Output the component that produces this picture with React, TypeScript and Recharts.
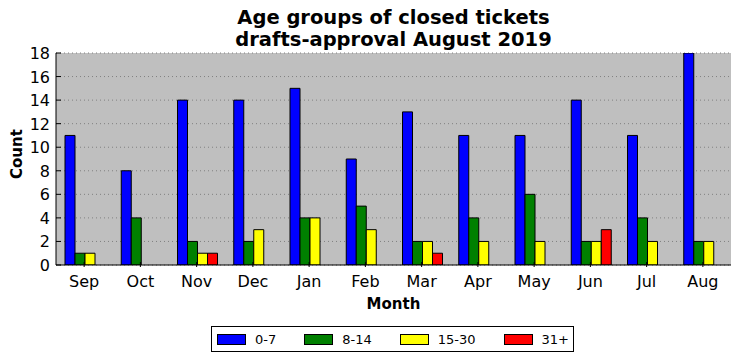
import React from 'react'
import {
  BarChart,
  Bar,
  XAxis,
  YAxis,
  CartesianGrid,
  Legend,
} from 'recharts'

const months = ['Sep', 'Oct', 'Nov', 'Dec', 'Jan', 'Feb', 'Mar', 'Apr', 'May', 'Jun', 'Jul', 'Aug']
const age0to7 = [11, 8, 14, 14, 15, 9, 13, 11, 11, 14, 11, 18]
const age8to14 = [1, 4, 2, 2, 4, 5, 2, 4, 6, 2, 4, 2]
const age15to30 = [1, 0, 1, 3, 4, 3, 2, 2, 2, 2, 2, 2]
const age31plus = [0, 0, 1, 0, 0, 0, 1, 0, 0, 3, 0, 0]
const yTicks = [0, 2, 4, 6, 8, 10, 12, 14, 16, 18]

const SERIES = [
  { key: 'a', name: '0-7', color: '#0000ff' },
  { key: 'b', name: '8-14', color: '#008000' },
  { key: 'c', name: '15-30', color: '#ffff00' },
  { key: 'd', name: '31+', color: '#ff0000' },
]

const FONT = '"DejaVu Sans", sans-serif'

const data = months.map((m, i) => ({
  month: m,
  a: age0to7[i],
  b: age8to14[i],
  c: age15to30[i],
  d: age31plus[i],
}))

// matplotlib "classic" style ticks point into the plot
function LeftTick(props: any) {
  const { x, y, payload } = props
  return (
    <g>
      <line x1={x} y1={y} x2={x + 5} y2={y} stroke="#000" />
      <text x={x - 6} y={y} dy={6} textAnchor="end" fontSize={16} fontFamily={FONT} fill="#000">
        {payload.value}
      </text>
    </g>
  )
}

function RightTick(props: any) {
  const { x, y } = props
  return <line x1={x} y1={y} x2={x - 5} y2={y} stroke="#000" />
}

function BottomTick(props: any) {
  const { x, y, payload } = props
  return (
    <g>
      <line x1={x} y1={y} x2={x} y2={y - 5} stroke="#000" />
      <text x={x} y={y + 20} textAnchor="middle" fontSize={16} fontFamily={FONT} fill="#000">
        {payload.value}
      </text>
    </g>
  )
}

function TopTick(props: any) {
  const { x, y } = props
  return <line x1={x} y1={y} x2={x} y2={y + 5} stroke="#000" />
}

function LegendBox() {
  return (
    <div
      style={{
        display: 'flex',
        alignItems: 'center',
        border: '1px solid #000',
        background: '#fff',
        height: 26,
        width: 363,
        boxSizing: 'border-box',
        paddingLeft: 5,
        fontFamily: FONT,
        fontSize: 13,
        whiteSpace: 'nowrap',
      }}
    >
      {SERIES.map((s) => (
        <div
          key={s.key}
          style={{ display: 'flex', alignItems: 'center', marginRight: 28, flexShrink: 0 }}
        >
          <span
            style={{
              display: 'inline-block',
              width: 27,
              height: 9,
              background: s.color,
              border: '1px solid #000',
              marginRight: 9,
              flexShrink: 0,
            }}
          />
          <span>{s.name}</span>
        </div>
      ))}
    </div>
  )
}

export default function App() {
  return (
    <div style={{ position: 'absolute', left: 0, top: 0, width: 741, height: 361, background: '#fff' }}>
      <div
        style={{
          position: 'absolute',
          left: 56,
          width: 675,
          top: 7,
          textAlign: 'center',
          fontFamily: FONT,
          fontWeight: 'bold',
          fontSize: 19.5,
          lineHeight: '22px',
        }}
      >
        <div>Age groups of closed tickets</div>
        <div>drafts-approval August 2019</div>
      </div>
      <BarChart
        width={741}
        height={361}
        data={data}
        margin={{ top: 53, right: 10, bottom: 66, left: 8 }}
        barCategoryGap={9}
        barGap={0}
      >
        <CartesianGrid
          horizontal
          vertical={false}
          fill="#bfbfbf"
          fillOpacity={1}
          stroke="#808080"
          strokeDasharray="1 3"
        />
        <XAxis
          dataKey="month"
          height={30}
          axisLine={{ stroke: '#000' }}
          tickLine={false}
          tickSize={0}
          tick={<BottomTick />}
          interval={0}
          label={{
            value: 'Month',
            position: 'insideBottom',
            offset: -14,
            fontFamily: FONT,
            fontWeight: 'bold',
            fontSize: 15,
            fill: '#000',
          }}
        />
        <XAxis
          dataKey="month"
          xAxisId="top"
          orientation="top"
          height={0}
          axisLine={{ stroke: '#000' }}
          tickLine={false}
          tickSize={0}
          tick={<TopTick />}
          interval={0}
        />
        <YAxis
          width={48}
          domain={[0, 18]}
          ticks={yTicks}
          allowDataOverflow
          axisLine={{ stroke: '#000' }}
          tickLine={false}
          tickSize={0}
          tickMargin={0}
          tick={<LeftTick />}
          label={{
            value: 'Count',
            angle: -90,
            position: 'insideLeft',
            offset: 9,
            dy: 20,
            fontFamily: FONT,
            fontWeight: 'bold',
            fontSize: 15,
            fill: '#000',
          }}
        />
        <YAxis
          yAxisId="right"
          orientation="right"
          width={0}
          domain={[0, 18]}
          ticks={yTicks}
          axisLine={{ stroke: '#000' }}
          tickLine={false}
          tickSize={0}
          tickMargin={0}
          tick={<RightTick />}
        />
        <Legend
          verticalAlign="middle"
          align="center"
          layout="horizontal"
          content={<LegendBox />}
          wrapperStyle={{ position: 'absolute', left: 211, top: 326, width: 'auto' }}
        />
        {SERIES.map((s) => (
          <Bar
            key={s.key}
            dataKey={s.key}
            name={s.name}
            fill={s.color}
            stroke="#000"
            strokeWidth={1}
            isAnimationActive={false}
          />
        ))}
      </BarChart>
    </div>
  )
}
